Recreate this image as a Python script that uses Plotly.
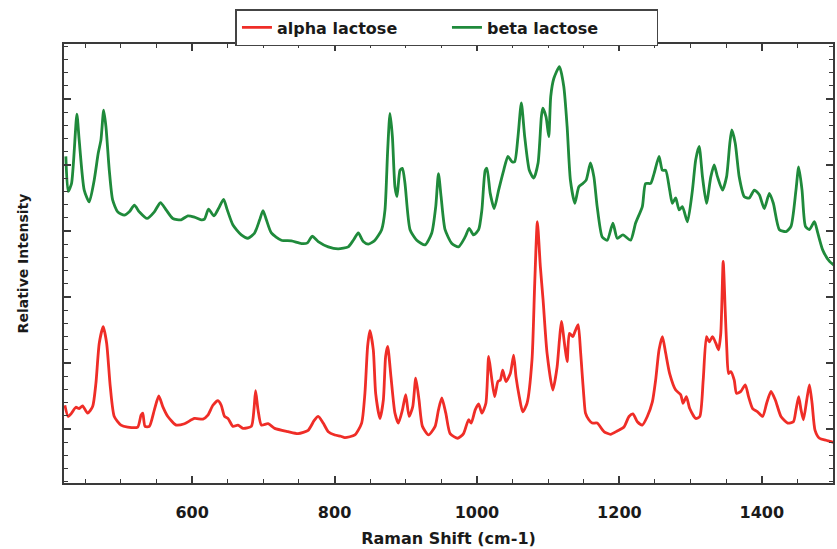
import plotly.graph_objects as go

# beta lactose (green) spectrum, Raman shift (cm-1) and relative intensity
beta_x = [422.6, 425.8, 430.6, 438.1, 441.3, 448.4, 455.4, 462.4, 468.1, 471.9, 475.7, 478.9, 483.6, 488.3,
          495.4, 504.7, 511.7, 518.8, 525.8, 536.6, 546.9, 555.4, 563.4, 572.8, 584.5, 593.9, 603.2, 612.7,
          617.3, 623.0, 630.6, 637.0, 644.1, 649.3, 657.3, 669.0, 678.4, 687.7, 694.8, 699.5, 704.2, 711.2,
          725.3, 739.4, 753.5, 761.9, 768.5, 777.0, 791.1, 805.0, 819.2, 826.3, 833.3, 840.3, 847.4, 856.7,
          866.1, 870.8, 874.6, 877.8, 881.2, 884.8, 887.7, 891.9, 895.3, 898.9, 906.0, 915.4, 927.1, 936.5,
          942.1, 945.9, 949.6, 955.2, 964.7, 974.1, 983.4, 989.0, 995.2, 1002.3, 1006.9, 1011.6, 1014.0,
          1018.6, 1024.2, 1030.4, 1037.5, 1043.5, 1049.2, 1052.9, 1057.6, 1062.3, 1067.0, 1073.5, 1079.7,
          1085.8, 1090.4, 1092.4, 1097.0, 1100.8, 1103.6, 1107.9, 1115.8, 1121.9, 1126.6, 1131.2, 1137.4,
          1143.1, 1148.7, 1153.3, 1159.4, 1164.2, 1168.8, 1175.9, 1182.9, 1190.9, 1197.0, 1205.0, 1215.7,
          1222.8, 1232.2, 1236.8, 1243.9, 1248.7, 1255.7, 1260.4, 1265.0, 1270.6, 1274.4, 1279.1, 1283.9,
          1288.5, 1295.6, 1302.6, 1307.2, 1312.0, 1316.7, 1322.3, 1328.4, 1333.1, 1337.8, 1344.8, 1350.5,
          1355.1, 1357.9, 1362.7, 1368.3, 1375.4, 1382.4, 1389.5, 1396.5, 1403.5, 1410.6, 1416.2, 1424.7,
          1434.0, 1441.0, 1448.0, 1451.8, 1456.5, 1461.3, 1466.9, 1473.9, 1478.6, 1485.6, 1495.1, 1506.8]
beta_y = [4.13, 3.60, 3.72, 4.77, 4.38, 3.62, 3.44, 3.77, 4.18, 4.38, 4.83, 4.58, 3.92, 3.47,
          3.29, 3.24, 3.29, 3.39, 3.29, 3.19, 3.29, 3.43, 3.32, 3.19, 3.17, 3.23, 3.21, 3.17,
          3.18, 3.33, 3.23, 3.34, 3.48, 3.32, 3.09, 2.94, 2.89, 2.97, 3.17, 3.31, 3.17, 2.97,
          2.86, 2.85, 2.81, 2.82, 2.92, 2.84, 2.76, 2.73, 2.76, 2.86, 2.97, 2.84, 2.80, 2.86,
          3.02, 3.32, 4.23, 4.78, 4.43, 3.67, 3.52, 3.92, 3.95, 3.72, 3.02, 2.86, 2.79, 2.97,
          3.37, 3.87, 3.52, 3.02, 2.81, 2.76, 2.91, 3.04, 2.94, 3.02, 3.32, 3.92, 3.95,
          3.57, 3.34, 3.62, 3.92, 4.13, 4.05, 4.05, 4.43, 4.94, 4.43, 3.92, 3.80,
          4.03, 4.73, 4.86, 4.73, 4.43, 5.04, 5.31, 5.49, 5.19, 4.58, 3.77, 3.42,
          3.67, 3.72, 3.77, 4.03, 3.82, 3.37, 2.91, 2.86, 3.12, 2.89, 2.94, 2.86,
          3.12, 3.37, 3.72, 3.72, 3.87, 4.13, 3.92, 3.92, 3.62, 3.42, 3.50, 3.32,
          3.37, 3.14, 3.62, 4.08, 4.28, 3.82, 3.42, 3.82, 4.00, 3.82, 3.62, 3.82,
          4.33, 4.53, 4.33, 3.82, 3.52, 3.50, 3.62, 3.55, 3.34, 3.57, 3.42, 3.02,
          2.99, 3.07, 3.62, 3.97, 3.62, 3.07, 3.02, 3.14, 2.97, 2.71, 2.54, 2.44]

# alpha lactose (red) spectrum
alpha_x = [421.2, 425.8, 430.6, 436.7, 441.3, 446.1, 453.1, 460.2, 464.8, 469.5, 475.1, 479.9, 485.0,
           490.6, 500.0, 509.5, 523.5, 528.2, 530.6, 533.8, 539.9, 546.9, 553.1, 558.7, 565.8, 577.5,
           589.2, 603.2, 615.1, 622.1, 629.1, 636.2, 640.8, 645.5, 650.3, 657.3, 664.3, 671.4, 683.1,
           686.9, 689.1, 692.5, 697.2, 706.6, 715.9, 734.7, 748.8, 762.9, 771.4, 777.0, 784.0, 791.1,
           800.4, 808.8, 814.4, 828.5, 838.0, 842.6, 846.4, 849.6, 854.4, 857.7, 863.7, 868.5, 871.7,
           874.6, 879.2, 884.8, 889.6, 895.3, 899.9, 904.6, 909.8, 914.0, 918.6, 923.4, 931.9, 941.2,
           945.9, 950.6, 956.2, 962.3, 973.1, 981.1, 988.2, 991.9, 997.5, 1002.3, 1006.9, 1012.5,
           1016.4, 1020.0, 1024.8, 1029.4, 1032.7, 1036.1, 1040.7, 1046.8, 1051.5, 1054.8, 1059.4,
           1064.2, 1070.3, 1077.3, 1081.1, 1084.8, 1089.0, 1092.8, 1098.4, 1106.5, 1112.5, 1115.8,
           1118.6, 1123.4, 1126.6, 1129.8, 1134.6, 1137.4, 1142.1, 1145.3, 1147.7, 1150.1, 1152.4,
           1157.1, 1161.8, 1168.8, 1178.3, 1187.6, 1197.0, 1206.4, 1213.5, 1219.1, 1225.2, 1232.2,
           1239.2, 1246.3, 1250.9, 1255.7, 1260.4, 1265.0, 1270.6, 1279.1, 1286.1, 1289.5, 1294.1,
           1298.8, 1307.2, 1312.9, 1317.7, 1322.3, 1326.1, 1330.8, 1335.4, 1339.2, 1342.4, 1345.8,
           1348.6, 1350.9, 1353.3, 1356.5, 1361.3, 1364.5, 1370.6, 1376.8, 1381.4, 1387.1, 1394.1,
           1401.2, 1406.8, 1412.9, 1419.0, 1426.9, 1436.4, 1444.4, 1448.0, 1451.8, 1455.1, 1458.5,
           1463.1, 1466.9, 1470.6, 1474.8, 1481.0, 1490.3, 1499.7, 1508.2]
alpha_y = [0.36, 0.19, 0.24, 0.33, 0.31, 0.35, 0.24, 0.34, 0.69, 1.30, 1.55, 1.30, 0.64,
           0.19, 0.06, 0.03, 0.03, 0.21, 0.24, 0.04, 0.04, 0.29, 0.50, 0.34, 0.19, 0.06,
           0.08, 0.16, 0.15, 0.21, 0.36, 0.43, 0.36, 0.19, 0.16, 0.04, 0.06, 0.01, 0.04,
           0.31, 0.58, 0.29, 0.06, 0.08, 0.01, -0.04, -0.07, -0.02, 0.13, 0.19, 0.09, -0.04,
           -0.09, -0.11, -0.13, -0.09, 0.09, 0.54, 1.25, 1.49, 1.20, 0.54, 0.16, 0.44, 1.10,
           1.25, 0.79, 0.24, 0.09, 0.29, 0.52, 0.19, 0.34, 0.77, 0.44, 0.04, -0.09, 0.04,
           0.29, 0.47, 0.24, -0.07, -0.14, -0.07, 0.14, 0.09, 0.29, 0.38, 0.24, 0.39,
           1.10, 0.82, 0.49, 0.72, 0.74, 0.89, 0.72, 0.84, 1.12, 0.79, 0.49,
           0.26, 0.39, 1.05, 2.21, 3.14, 2.46, 1.96, 1.15, 0.59, 0.94, 1.35,
           1.63, 1.25, 1.02, 1.45, 1.40, 1.47, 1.58, 1.20, 0.84, 0.49, 0.24,
           0.14, 0.09, 0.09, -0.04, -0.08, -0.03, 0.03, 0.19, 0.23, 0.11, 0.06,
           0.19, 0.41, 0.74, 1.20, 1.40, 1.15, 0.84, 0.59, 0.52, 0.39, 0.49,
           0.31, 0.16, 0.19, 0.74, 1.40, 1.32, 1.40, 1.30, 1.20, 1.45, 2.54,
           1.80, 1.20, 0.84, 0.87, 0.74, 0.54, 0.57, 0.67, 0.49, 0.31, 0.26,
           0.19, 0.39, 0.57, 0.44, 0.19, 0.09, 0.11, 0.29, 0.49, 0.29, 0.14,
           0.44, 0.67, 0.39, -0.02, -0.14, -0.17, -0.20, -0.23]

series_names = ["alpha lactose", "beta lactose"]
x_ticks = [600, 800, 1000, 1200, 1400]

FONT = "DejaVu Sans, Arial, sans-serif"
TEXT = "#1a1a1a"
AXIS_COLOR = "#3a3a3a"

fig = go.Figure()
fig.add_trace(go.Scatter(x=alpha_x, y=alpha_y, mode="lines", name=series_names[0],
                         line=dict(color="#ef2d27", width=2.8, shape="spline", smoothing=0.6)))
fig.add_trace(go.Scatter(x=beta_x, y=beta_y, mode="lines", name=series_names[1],
                         line=dict(color="#1f8a3b", width=2.8, shape="spline", smoothing=0.6)))

fig.update_layout(
    width=837, height=549,
    margin=dict(l=64, r=4, t=44, b=66, autoexpand=False),
    paper_bgcolor="white", plot_bgcolor="white",
    font=dict(family=FONT, color=TEXT),
    showlegend=True,
    legend=dict(
        orientation="h", x=0.498, xanchor="center", y=1.0797, yanchor="top",
        bordercolor="#444444", borderwidth=1.5, bgcolor="white",
        font=dict(family=FONT, size=16, color=TEXT, weight="bold"),
        entrywidth=165, entrywidthmode="pixels",
        itemwidth=30,
    ),
    xaxis=dict(
        range=[420, 1500],
        tickmode="array", tickvals=x_ticks, ticktext=[str(v) for v in x_ticks],
        ticks="inside", ticklen=7, tickwidth=1.5, tickcolor=AXIS_COLOR,
        minor=dict(dtick=50, tick0=400, ticks="inside", ticklen=4, tickwidth=1.2, tickcolor=AXIS_COLOR),
        showline=True, linecolor=AXIS_COLOR, linewidth=1.8, mirror="allticks",
        showgrid=False, zeroline=False,
        ticklabelstandoff=14,
        tickfont=dict(family=FONT, size=16, color=TEXT, weight="bold"),
        title=dict(text="Raman Shift (cm-1)", standoff=12,
                   font=dict(family=FONT, size=16, color=TEXT, weight="bold")),
        automargin=False,
    ),
    yaxis=dict(
        range=[-0.818, 5.833],
        tick0=0, dtick=1,
        ticks="inside", ticklen=7, tickwidth=1.5, tickcolor=AXIS_COLOR,
        minor=dict(dtick=0.2, tick0=0, ticks="inside", ticklen=4, tickwidth=1.2, tickcolor=AXIS_COLOR),
        showticklabels=False,
        showline=True, linecolor=AXIS_COLOR, linewidth=1.8, mirror="allticks",
        showgrid=False, zeroline=False,
        title=dict(text="Relative Intensity", standoff=30,
                   font=dict(family=FONT, size=14, color=TEXT, weight="bold")),
        automargin=False,
    ),
)

fig.write_html("out.html", config={"displayModeBar": False},
               post_script="document.body.style.margin='0';")
